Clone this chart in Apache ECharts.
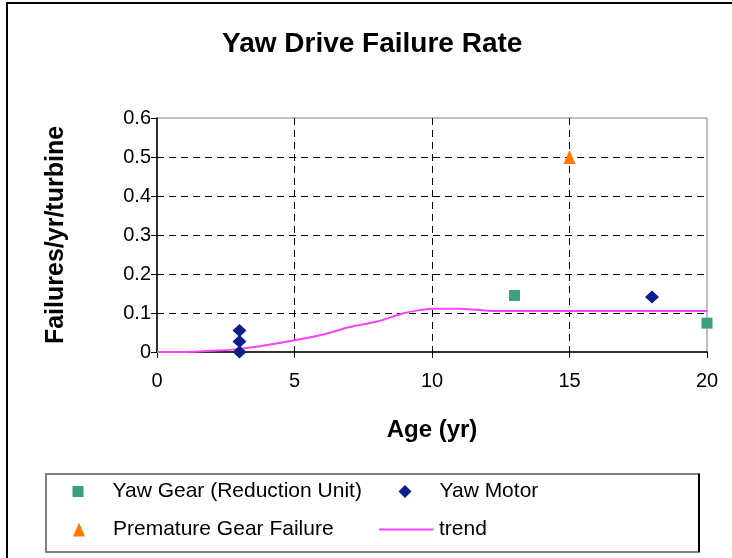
<!DOCTYPE html>
<html lang="en">
<head>
    <meta charset="utf-8">
    <title>Yaw Drive Failure Rate</title>
    <script src="https://cdn.jsdelivr.net/npm/echarts@6.0.0/dist/echarts.min.js"></script>
    <style>
        body { margin: 0; background: #ffffff; }
    </style>
</head>
<body>
<div id="main" style="width: 732px;height:558px;"></div>
<script type="text/javascript">
    // data: [age (yr), failures/yr/turbine]
    var yawGear = [[13, 0.145], [20, 0.074]];
    var yawMotor = [[3, 0], [3, 0.027], [3, 0.055], [18, 0.141]];
    var prematureGear = [[15, 0.5]];
    var trendAge = [0, 1, 2, 3, 4, 5, 6, 7, 8, 9, 10, 11, 12, 13, 14, 15, 16, 17, 18, 19, 20];
    var trendRate = [0, 0, 0.003, 0.008, 0.018, 0.03, 0.044, 0.064, 0.078, 0.1, 0.111, 0.111, 0.106,
        0.105, 0.105, 0.105, 0.105, 0.105, 0.105, 0.105, 0.105];

    var trend = trendAge.map(function (a, i) { return [a, trendRate[i]]; });

    var font = 'Liberation Sans, Arial, sans-serif';
    var legendText = { fontFamily: font, fontSize: 21, color: '#000' };

    var myChart = echarts.init(document.getElementById('main'));

    var option = {
        animation: false,
        title: {
            text: 'Yaw Drive Failure Rate',
            left: 222,
            top: 30,
            padding: 0,
            textStyle: { fontFamily: font, fontSize: 28, fontWeight: 'bold', color: '#000' }
        },
        grid: {
            left: 157,
            right: 25,
            top: 118,
            bottom: 206,
            show: true,
            borderColor: '#808080',
            borderWidth: 1
        },
        xAxis: {
            type: 'value',
            min: 0,
            max: 20,
            interval: 5,
            name: 'Age (yr)',
            nameLocation: 'middle',
            nameGap: 66,
            nameTextStyle: { fontFamily: font, fontSize: 24, fontWeight: 'bold', color: '#000' },
            axisLine: { lineStyle: { color: '#000', width: 1.5 } },
            axisTick: { length: 6, lineStyle: { color: '#000' } },
            axisLabel: { margin: 19, fontFamily: font, fontSize: 20, color: '#000' },
            splitLine: {
                showMinLine: false,
                showMaxLine: false,
                lineStyle: { color: '#000', type: [7, 5] }
            }
        },
        yAxis: {
            type: 'value',
            min: 0,
            max: 0.6,
            interval: 0.1,
            name: 'Failures/yr/turbine',
            nameLocation: 'middle',
            nameGap: 88,
            nameTextStyle: { fontFamily: font, fontSize: 25, fontWeight: 'bold', color: '#000' },
            axisLine: { show: true, lineStyle: { color: '#000', width: 1.5 } },
            axisTick: { show: true, length: 6, lineStyle: { color: '#000' } },
            axisLabel: { margin: 6, fontFamily: font, fontSize: 20, color: '#000' },
            splitLine: {
                showMinLine: false,
                showMaxLine: false,
                lineStyle: { color: '#000', type: [7, 5] }
            }
        },
        legend: [
            {
                data: ['Yaw Gear (Reduction Unit)'],
                left: 72.5, top: 481, padding: 0,
                itemWidth: 11, itemHeight: 11,
                textStyle: Object.assign({ padding: [0, 0, 0, 24] }, legendText)
            },
            {
                data: ['Yaw Motor'],
                left: 398.5, top: 481, padding: 0,
                itemWidth: 13, itemHeight: 13,
                textStyle: Object.assign({ padding: [0, 0, 0, 23] }, legendText)
            },
            {
                data: ['Premature Gear Failure'],
                left: 73, top: 519, padding: 0,
                itemWidth: 12, itemHeight: 14,
                textStyle: Object.assign({ padding: [0, 0, 0, 23] }, legendText)
            },
            {
                data: [{ name: 'trend', icon: 'rect' }],
                left: 379, top: 519, padding: 0,
                itemWidth: 54, itemHeight: 2,
                textStyle: Object.assign({ padding: [0, 0, 0, 1] }, legendText)
            }
        ],
        graphic: [
            {
                type: 'rect',
                shape: { x: 7, y: 3, width: 740, height: 600 },
                style: { fill: 'none', stroke: '#000', lineWidth: 2 },
                silent: true
            },
            {
                type: 'rect',
                shape: { x: 46, y: 474, width: 653, height: 78 },
                style: { fill: 'none', stroke: '#808080', lineWidth: 2 },
                silent: true
            },
            {
                type: 'line',
                shape: { x1: 699, y1: 474, x2: 699, y2: 552 },
                style: { stroke: '#000', lineWidth: 2 },
                silent: true
            }
        ],
        series: [
            {
                name: 'trend',
                type: 'line',
                data: trend,
                symbol: 'none',
                smooth: 0.2,
                lineStyle: { color: '#ff40ff', width: 2 },
                itemStyle: { color: '#ff40ff' },
                z: 2
            },
            {
                name: 'Yaw Gear (Reduction Unit)',
                type: 'scatter',
                data: yawGear,
                symbol: 'rect',
                symbolSize: 11,
                itemStyle: { color: '#3aa276', opacity: 1 },
                z: 3
            },
            {
                name: 'Yaw Motor',
                type: 'scatter',
                data: yawMotor,
                symbol: 'diamond',
                symbolSize: [14, 13],
                itemStyle: { color: '#0a1e8f', opacity: 1 },
                z: 3
            },
            {
                name: 'Premature Gear Failure',
                type: 'scatter',
                data: prematureGear,
                symbol: 'triangle',
                symbolSize: [12, 14],
                itemStyle: { color: '#ff7a00', opacity: 1 },
                z: 3
            }
        ]
    };

    myChart.setOption(option);
</script>
</body>
</html>
